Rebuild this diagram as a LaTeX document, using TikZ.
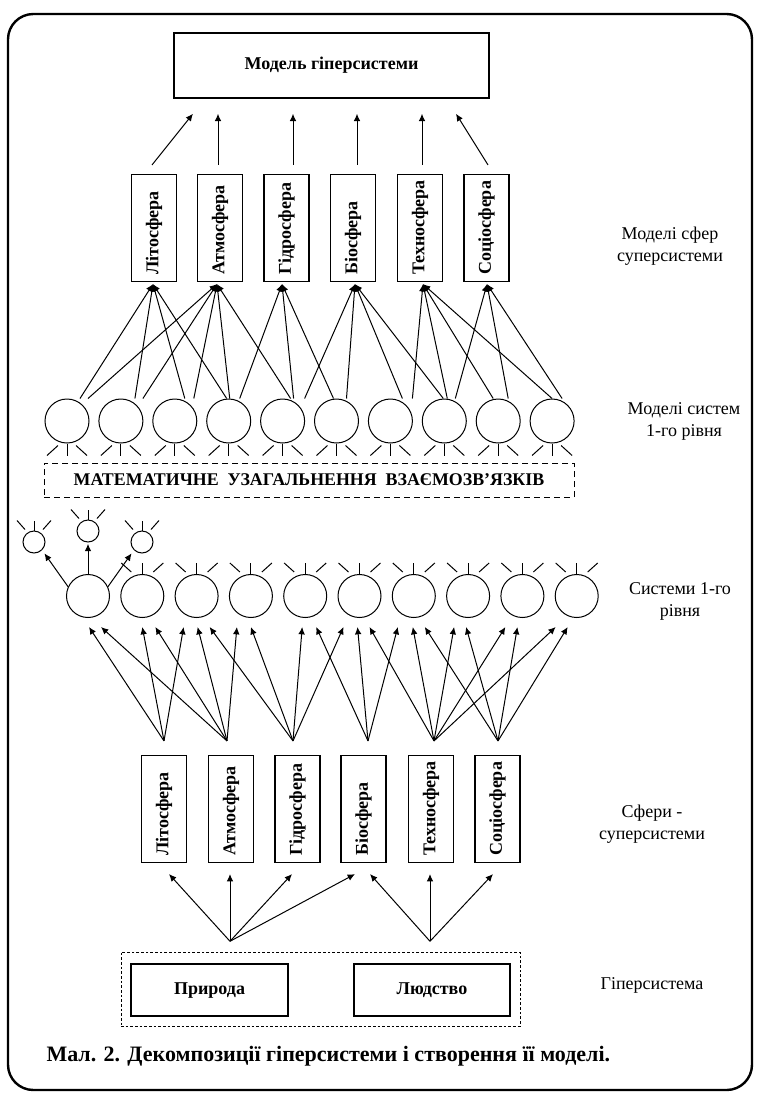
\documentclass[tikz,border=0pt]{standalone}
\usepackage{fontspec}
\setmainfont{Liberation Serif}
\usetikzlibrary{arrows.meta,calc}
\begin{document}
\begin{tikzpicture}[x=0.75pt,y=-0.75pt,
  line width=0.75pt,
  box/.style={draw,line width=1.1pt,inner sep=0pt},
  sbox/.style={box,minimum width=33.75pt,minimum height=80pt},
  vtext/.style={rotate=90,anchor=west,inner sep=0pt,font=\fontsize{13.5}{15}\selectfont\bfseries},
  circ/.style={draw,circle,minimum size=33pt,inner sep=0pt},
  lcirc/.style={draw,circle,minimum size=32.25pt,inner sep=0pt},
  scirc/.style={draw,circle,minimum size=16.5pt,inner sep=0pt},
  lbl/.style={align=center,inner sep=0pt,font=\fontsize{13.5}{16.5}\selectfont},
  arr/.style={-{Latex[length=5.5pt,width=5pt]}},
  btext/.style={font=\fontsize{13.5}{15}\selectfont\bfseries,text height=9.5pt,text depth=3pt},
]
\useasboundingbox (0,0) rectangle (757,1097);
% frame
\draw[line width=1.8pt,rounded corners=19pt] (8,14) rectangle (752,1090);
% model box
\node[box,minimum width=236.25pt,minimum height=48.75pt,btext] (model) at (331.5,65.5) {Модель гіперсистеми};
% upper sphere boxes
\foreach \i/\x/\t in {1/154/Літосфера,2/220/Атмосфера,3/286.5/Гідросфера,4/353/Біосфера,5/420/Техносфера,6/486.5/Соціосфера}{
  \node[sbox] (u\i) at (\x,228) {};
  \node[vtext] (ut\i) at ($(u\i.south)+(0,-7)$) {\t};
}
% arrows to model
\draw[arr] ($(u1.north)+(-2,-9)$) -- ($(model.south)+(-138.5,15)$);
\draw[arr] ($(u2.north)+(-2,-9)$) -- ($(model.south)+(-113.5,15)$);
\draw[arr] ($(u3.north)+(6.5,-9)$) -- ($(model.south)+(-38.5,15)$);
\draw[arr] ($(u4.north)+(4,-9)$) -- ($(model.south)+(25.5,15)$);
\draw[arr] ($(u5.north)+(2,-9)$) -- ($(model.south)+(90.5,15)$);
\draw[arr] ($(u6.north)+(1.5,-9)$) -- ($(model.south)+(124.5,15)$);
% model circles
\foreach \i in {1,...,10}{
  \node[circ] (m\i) at ({67+53.9*(\i-1)},421) {};
  \draw (m\i.south) -- ++(0,12);
  \draw ($(m\i.south)+(-9,2)$) -- ++(-11,10);
  \draw ($(m\i.south)+(9,2)$) -- ++(11,10);
}
% upper fan
\foreach \i/\d/\j/\t in {1/13/1/-1,1/21/2/-3,2/14/1/-1,2/22/2/-3,3/10/1/-1,3/19/2/-3,
  4/-2/1/-1,4/1/2/-3,4/11/3/-4.5,5/8/2/-3,5/11/3/-4.5,5/22/4/2,6/-3/3/-4.5,6/10/4/2,
  7/12/4/2,7/22/5/3,8/-1/4/2,8/3/5/3,8/11/6/0.5,9/-5/5/3,9/10/6/0.5,10/0/5/3,10/10/6/0.5}{
  \draw[arr] ($(m\i.north)+(\d,0)$) -- ($(u\j.south)+(\t,2)$);
}
% dashed box
\node[draw,dash pattern=on 4.5pt off 3pt,minimum width=397.5pt,minimum height=25.5pt,inner sep=0pt,
  font=\fontsize{13.4}{15}\selectfont\bfseries] (math) at (309,480) {МАТЕМАТИЧНЕ\ \ УЗАГАЛЬНЕННЯ\ \ ВЗАЄМОЗВ'ЯЗКІВ};
% lower circles
\foreach \i in {1,...,10}{
  \node[lcirc] (l\i) at ({88+54.3*(\i-1)},596) {};
}
\foreach \i in {2,...,10}{
  \draw (l\i.north) -- ++(0,-11);
  \draw ($(l\i.north)+(-11,-2)$) -- ++(-10,-9);
  \draw ($(l\i.north)+(11,-2)$) -- ++(10,-9);
}
% small circles
\node[scirc] (s1) at (34,542) {};
\node[scirc] (s2) at (88,531) {};
\node[scirc] (s3) at (142,542) {};
\foreach \s in {s1,s2,s3}{
  \draw (\s.north) -- ++(0,-10);
  \draw ($(\s.north)+(-9,-1)$) -- ++(-8,-9);
  \draw ($(\s.north)+(9,-1)$) -- ++(8,-9);
}
\draw[arr,shorten >=1pt] (l1.north) -- (s2.south);
\draw[arr,shorten >=3pt] (l1.155) -- (s1.-45);
\draw[arr,shorten >=3pt] (l1.25) -- (s3.-135);
% lower sphere boxes
\foreach \i/\x/\t in {1/164/Літосфера,2/231/Атмосфера,3/297.5/Гідросфера,4/363.5/Біосфера,5/431/Техносфера,6/497.5/Соціосфера}{
  \node[sbox] (b\i) at (\x,809) {};
  \node[vtext] (bt\i) at ($(b\i.south)+(0,-7)$) {\t};
}
% lower fan
\foreach \j/\t/\i/\d in {1/0/1/1,2/-4/1/13,1/0/2/0,2/-4/2/13,1/0/3/-13,2/-4/3/1,3/-4.5/3/13,
  2/-4/4/-14,3/-4.5/4/0,3/-4.5/5/-3,4/4.5/5/11,3/-4.5/6/-16,4/4.5/6/-2,5/3/6/10,
  4/4.5/7/-16,5/3/7/-1,6/0.5/7/11,5/3/8/-14,6/0.5/8/-2,5/3/9/-17,6/0.5/9/-5,5/3/10/-21,6/0.5/10/-9}{
  \draw[arr] ($(b\j.north)+(\t,-14)$) -- ($(l\i.south)+(\d,9)$);
}
% hypersystem
\node[draw,dash pattern=on 2pt off 1.5pt,minimum width=299.25pt,minimum height=55.5pt,inner sep=0pt] (hyper) at (320.5,989) {};
\node[box,minimum width=117.75pt,minimum height=39pt,btext] (pr) at (209.5,990) {Природа};
\node[box,minimum width=117pt,minimum height=39pt,btext] (ld) at (432,990) {Людство};
\coordinate (jp) at ($(pr.north)+(20.5,-22)$);
\coordinate (jl) at ($(ld.north)+(-2,-22)$);
\draw[arr] (jp) -- ($(b1.south)+(5,11)$);
\draw[arr] (jp) -- ($(b2.south)+(-1,11)$);
\draw[arr] (jp) -- ($(b3.south)+(-5.5,11)$);
\draw[arr] (jp) -- ($(b4.south)+(-8.5,11)$);
\draw[arr] (jl) -- ($(b4.south)+(6.5,11)$);
\draw[arr] (jl) -- ($(b5.south)+(-1,11)$);
\draw[arr] (jl) -- ($(b6.south)+(-4.5,11)$);
% labels
\node[lbl] (lab1) at (670,246) {Моделі сфер\\суперсистеми};
\node[lbl] (lab2) at (684,421) {Моделі систем\\1-го рівня};
\node[lbl] (lab3) at (680,601) {Системи 1-го\\рівня};
\node[lbl] (lab4) at (652,824) {Сфери -\\суперсистеми};
\node[lbl] (lab5) at (652,985) {Гіперсистема};
% caption
\node[anchor=west,inner sep=0pt,font=\fontsize{16.5}{19}\selectfont\bfseries] (cap) at (46,1056) {Мал. 2. Декомпозиції гіперсистеми і створення її моделі.};
\end{tikzpicture}
\end{document}
